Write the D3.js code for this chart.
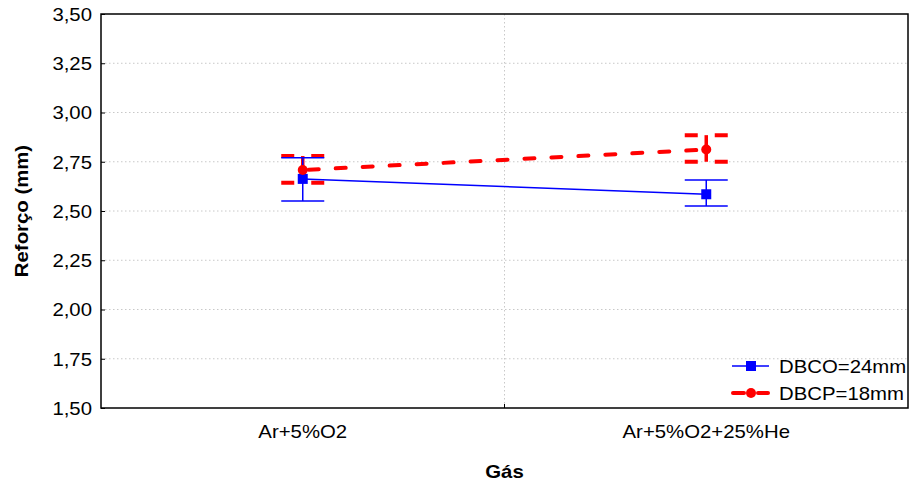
<!DOCTYPE html>
<html>
<head>
<meta charset="utf-8">
<script src="https://cdn.jsdelivr.net/npm/d3@7"></script>
<style>
  body { margin: 0; background: #fff; }
  text { font-family: "Liberation Sans", Arial, sans-serif; fill: #000; }
</style>
</head>
<body>
<div id="chart"></div>
<script>
// data
var categories = ["Ar+5%O2", "Ar+5%O2+25%He"];
var seriesNames = ["DBCO=24mm", "DBCP=18mm"];
var dbcoMean = [2.663, 2.585];
var dbcoLow = [2.551, 2.525];
var dbcoHigh = [2.770, 2.657];
var dbcpMean = [2.708, 2.812];
var dbcpLow = [2.644, 2.750];
var dbcpHigh = [2.779, 2.885];
var yTicks = [1.5, 1.75, 2.0, 2.25, 2.5, 2.75, 3.0, 3.25, 3.5];

var W = 912, H = 487;
var mLeft = 101, mRight = 908, mTop = 14, mBottom = 408;
var fs = 18.5; // font size
var stretchK = 1.1; // text in the picture is a bit wide

var svg = d3.select("#chart").append("svg")
    .attr("width", W)
    .attr("height", H);

var x = d3.scalePoint().domain(categories).range([mLeft, mRight]).padding(0.5);
var y = d3.scaleLinear().domain([1.5, 3.5]).range([mBottom, mTop]);
var fmt = function(v) { return d3.format(".2f")(v).replace(".", ","); };

// grid lines
svg.append("g").selectAll("line")
    .data(yTicks.slice(1, -1))
    .enter().append("line")
    .attr("x1", mLeft).attr("x2", mRight)
    .attr("y1", function(d) { return y(d); })
    .attr("y2", function(d) { return y(d); })
    .attr("stroke", "#c8c8c8")
    .attr("stroke-dasharray", "1.5,2.5");

var midX = (mLeft + mRight) / 2;
svg.append("line")
    .attr("x1", midX).attr("x2", midX)
    .attr("y1", mTop).attr("y2", mBottom)
    .attr("stroke", "#c8c8c8")
    .attr("stroke-dasharray", "1.5,2.5");

// frame
svg.append("rect")
    .attr("x", mLeft).attr("y", mTop)
    .attr("width", mRight - mLeft).attr("height", mBottom - mTop)
    .attr("fill", "none")
    .attr("stroke", "#000")
    .attr("stroke-width", 1.5);

// y axis
var yAxis = d3.axisLeft(y).tickValues(yTicks).tickFormat(fmt).tickSize(-4).tickPadding(9);
var gy = svg.append("g").attr("transform", "translate(" + mLeft + ",0)").call(yAxis);
gy.select(".domain").remove();
gy.selectAll("text")
    .attr("font-size", fs)
    .attr("font-family", "Liberation Sans, Arial, sans-serif")
    .attr("fill", "#000")
    .attr("dy", "0.34em");
gy.selectAll("line").attr("stroke", "#000");

// x axis labels + middle tick
categories.forEach(function(c) {
  svg.append("text")
      .attr("x", x(c))
      .attr("y", 438)
      .attr("text-anchor", "middle")
      .attr("font-size", fs)
      .text(c);
});
svg.append("line")
    .attr("x1", midX).attr("x2", midX)
    .attr("y1", mBottom).attr("y2", mBottom - 4)
    .attr("stroke", "#000");

// axis titles
svg.append("text")
    .attr("x", midX)
    .attr("y", 478)
    .attr("text-anchor", "middle")
    .attr("font-size", fs)
    .attr("font-weight", "bold")
    .text("Gás");

svg.append("text")
    .attr("transform", "translate(28," + ((mTop + mBottom) / 2) + ") rotate(-90)")
    .attr("text-anchor", "middle")
    .attr("font-size", fs)
    .attr("font-weight", "bold")
    .text("Reforço (mm)");

var capW = 21.5;

// DBCP (red dashed) error bars
categories.forEach(function(c, i) {
  svg.append("line")
      .attr("x1", x(c)).attr("x2", x(c))
      .attr("y1", y(dbcpLow[i])).attr("y2", y(dbcpHigh[i]))
      .attr("stroke", "red").attr("stroke-width", 3.5);
  [dbcpLow[i], dbcpHigh[i]].forEach(function(v) {
    svg.append("line")
        .attr("x1", x(c) - capW).attr("x2", x(c) + capW)
        .attr("y1", y(v)).attr("y2", y(v))
        .attr("stroke", "red").attr("stroke-width", 4)
        .attr("stroke-dasharray", "13,17");
  });
});

// DBCO (blue) error bars
categories.forEach(function(c, i) {
  svg.append("line")
      .attr("x1", x(c)).attr("x2", x(c))
      .attr("y1", y(dbcoLow[i])).attr("y2", y(dbcoHigh[i]))
      .attr("stroke", "blue").attr("stroke-width", 1.5);
  [dbcoLow[i], dbcoHigh[i]].forEach(function(v) {
    svg.append("line")
        .attr("x1", x(c) - capW).attr("x2", x(c) + capW)
        .attr("y1", y(v)).attr("y2", y(v))
        .attr("stroke", "blue").attr("stroke-width", 1.5);
  });
});

var line = d3.line()
    .x(function(d, i) { return x(categories[i]); })
    .y(function(d) { return y(d); });

// DBCP line
svg.append("path")
    .datum(dbcpMean)
    .attr("d", line)
    .attr("fill", "none")
    .attr("stroke", "red")
    .attr("stroke-width", 4)
    .attr("stroke-linecap", "round")
    .attr("stroke-dasharray", "10,17")
    .attr("stroke-dashoffset", -6);

// DBCO line
svg.append("path")
    .datum(dbcoMean)
    .attr("d", line)
    .attr("fill", "none")
    .attr("stroke", "blue")
    .attr("stroke-width", 1.5);

// markers
svg.append("g").selectAll("rect")
    .data(dbcoMean)
    .enter().append("rect")
    .attr("x", function(d, i) { return x(categories[i]) - 5; })
    .attr("y", function(d) { return y(d) - 5; })
    .attr("width", 10).attr("height", 10)
    .attr("fill", "blue");

svg.append("g").selectAll("circle")
    .data(dbcpMean)
    .enter().append("circle")
    .attr("cx", function(d, i) { return x(categories[i]); })
    .attr("cy", function(d) { return y(d); })
    .attr("r", 5)
    .attr("fill", "red");

// legend
var legY = [366, 393];
seriesNames.forEach(function(name, i) {
  var g = svg.append("g");
  if (i == 0) {
    g.append("line")
        .attr("x1", 732).attr("x2", 769)
        .attr("y1", legY[i]).attr("y2", legY[i])
        .attr("stroke", "blue").attr("stroke-width", 1.5);
    g.append("rect")
        .attr("x", 746).attr("y", legY[i] - 5)
        .attr("width", 10).attr("height", 10)
        .attr("fill", "blue");
  } else {
    [[733, 744], [758, 768]].forEach(function(seg) {
      g.append("line")
          .attr("x1", seg[0]).attr("x2", seg[1])
          .attr("y1", legY[i]).attr("y2", legY[i])
          .attr("stroke", "red").attr("stroke-width", 4)
          .attr("stroke-linecap", "round");
    });
    g.append("circle")
        .attr("cx", 751).attr("cy", legY[i])
        .attr("r", 5).attr("fill", "red");
  }
  g.append("text")
      .attr("x", 779)
      .attr("y", legY[i] + 7)
      .attr("font-size", fs)
      .text(name);
});

// widen all texts a little, as in the picture
svg.selectAll("text").each(function() {
  var w = this.getComputedTextLength();
  d3.select(this)
      .attr("textLength", w * stretchK)
      .attr("lengthAdjust", "spacingAndGlyphs");
});
</script>
</body>
</html>
